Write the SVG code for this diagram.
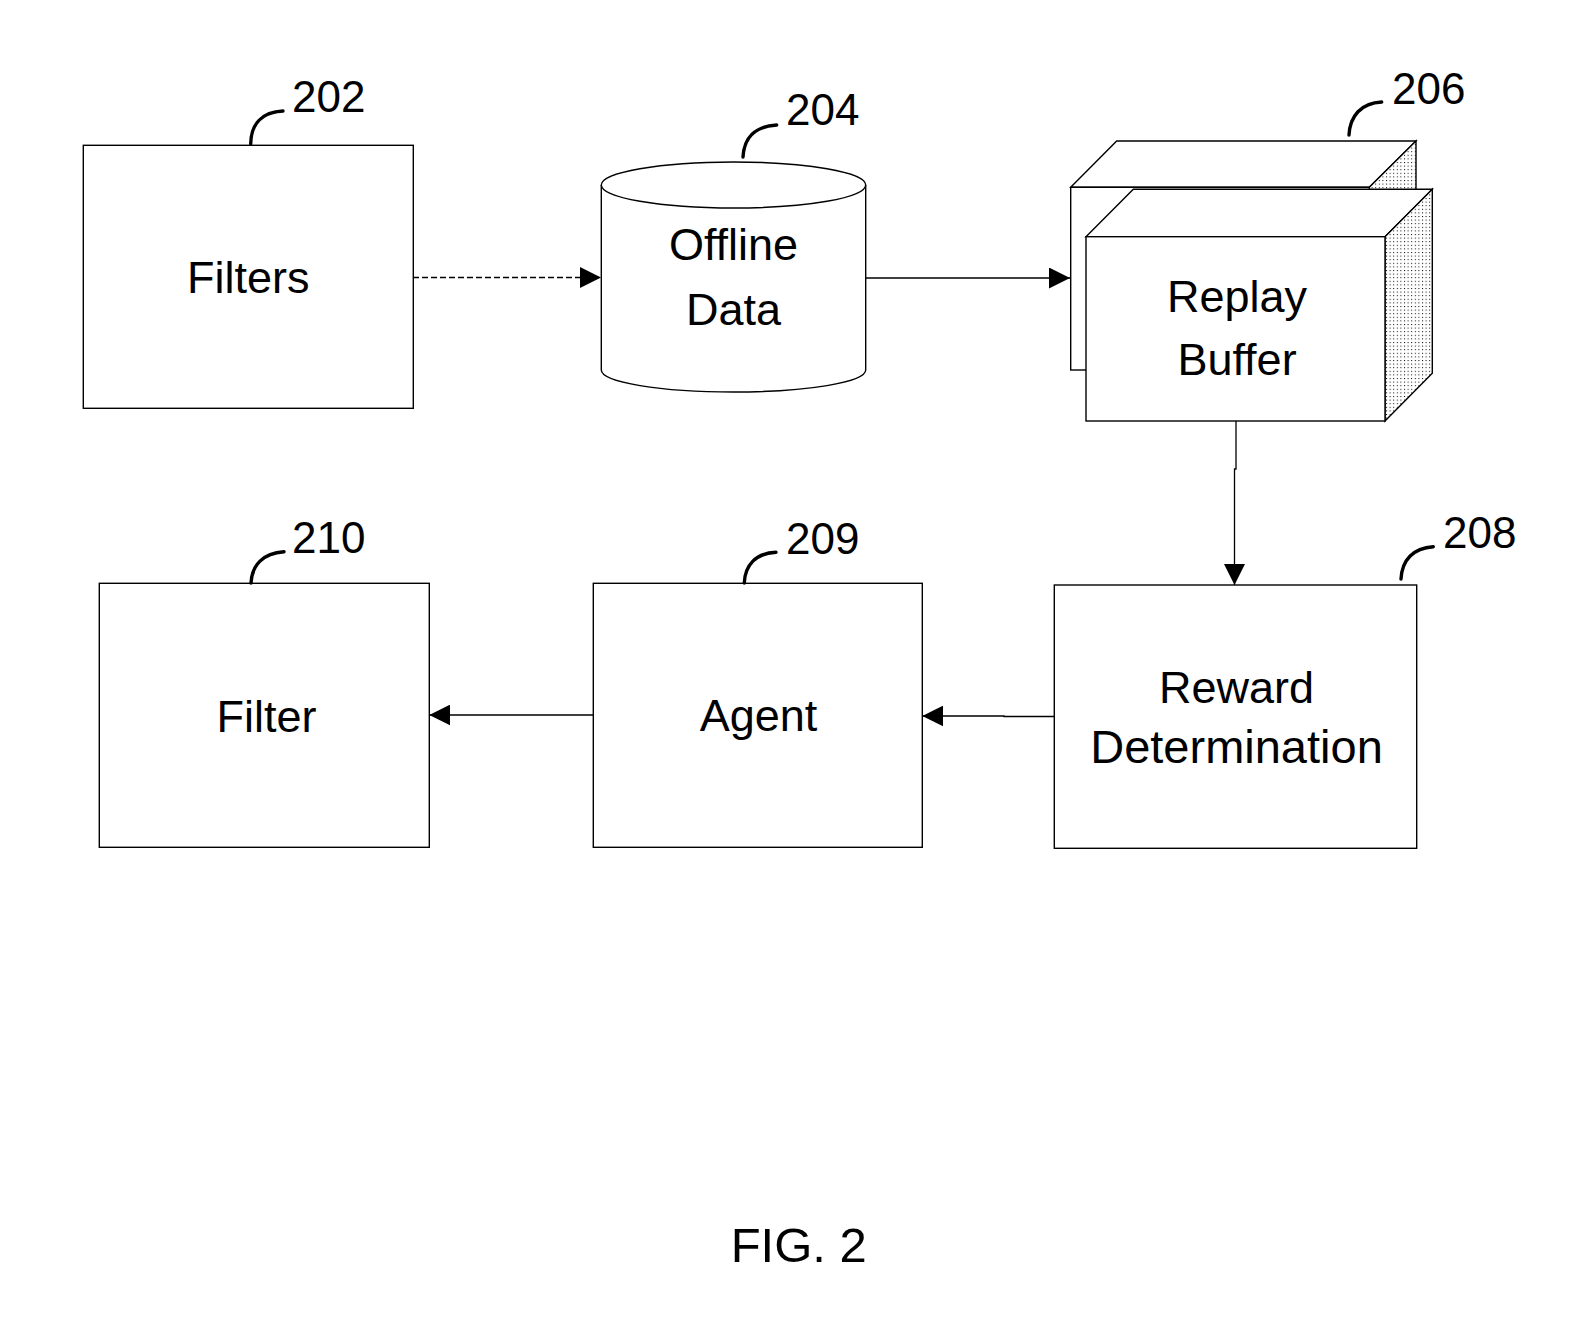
<svg xmlns="http://www.w3.org/2000/svg" width="1591" height="1341" viewBox="0 0 1591 1341">
<style>
.box{fill:#fff;stroke:#000;stroke-width:1.4}
.lbl{font-family:"Liberation Sans",Arial,sans-serif;font-size:45px;fill:#000;text-anchor:middle}
.num{font-family:"Liberation Sans",Arial,sans-serif;font-size:44px;fill:#000}
.lead{fill:none;stroke:#000;stroke-width:3.4;stroke-linecap:round}
.conn{fill:none;stroke:#000;stroke-width:1.3}
.dot{fill:url(#dots);stroke:#000;stroke-width:1.4}
</style>
<defs>
<marker id="arr" markerWidth="21" markerHeight="21" viewBox="0 0 21 21" refX="21" refY="10.5" orient="auto" markerUnits="userSpaceOnUse">
<path d="M0,0 L21,10.5 L0,21 Z" fill="#000"/>
</marker>
<pattern id="dots" patternUnits="userSpaceOnUse" width="3.6" height="3.6">
<rect width="3.6" height="3.6" fill="#fff"/>
<rect x="0" y="0" width="1" height="1" fill="#000"/>
</pattern>
</defs>
<rect width="1591" height="1341" fill="#fff"/>

<g id="connectors">
<line class="conn" x1="413" y1="277.5" x2="601" y2="277.5" stroke-dasharray="6,3" marker-end="url(#arr)"/>
<line class="conn" x1="866" y1="278" x2="1070" y2="278" marker-end="url(#arr)"/>
<polyline class="conn" points="1236,421 1236,469 1234.5,469 1234.5,585" marker-end="url(#arr)"/>
<polyline class="conn" points="1054,716.5 1004,716.5 1004,716 922.3,716" marker-end="url(#arr)"/>
<line class="conn" x1="593.3" y1="715" x2="429.3" y2="715" marker-end="url(#arr)"/>
</g>

<g id="n202">
<rect class="box" x="83.3" y="145.3" width="330" height="263"/>
<text class="lbl" x="248.3" y="293">Filters</text>
<path class="lead" d="M250.7,144 C251,124 262,112 283,111"/>
<text class="num" x="292" y="112">202</text>
</g>

<g id="n204">
<path class="box" d="M601.3,185 L601.3,370 A132,22 0 0 0 865.7,370 L865.7,185 A132,23 0 0 0 601.3,185 Z"/>
<path class="box" d="M601.3,185 A132,23 0 0 0 865.7,185" fill="none"/>
<text class="lbl" x="733.5" y="260">Offline</text>
<text class="lbl" x="733.5" y="325">Data</text>
<path class="lead" d="M743,157 C744,138 755,126 776.7,125"/>
<text class="num" x="786" y="125">204</text>
</g>

<g id="n206">
<polygon class="box" points="1070.7,187.3 1116.7,141 1416,141 1369.3,187.3"/>
<polygon class="dot" points="1369.3,187.3 1416,141 1416,323.7 1369.3,370"/>
<rect class="box" x="1070.7" y="187.3" width="298.6" height="182.7"/>
<polygon class="box" points="1086,236.7 1133.3,189.3 1432.3,189.3 1385,236.7"/>
<polygon class="dot" points="1385,236.7 1432.3,189.3 1432.3,373.3 1385,421"/>
<rect class="box" x="1086" y="236.7" width="299" height="184.3"/>
<text class="lbl" x="1237" y="312">Replay</text>
<text class="lbl" x="1237" y="375">Buffer</text>
<path class="lead" d="M1349,135 C1350,116 1361,103 1381.7,102"/>
<text class="num" x="1392" y="104">206</text>
</g>

<g id="n208">
<rect class="box" x="1054.3" y="585" width="362.4" height="263.3"/>
<text class="lbl" x="1236.5" y="702.5">Reward</text>
<text class="lbl" x="1236.5" y="763" style="font-size:47px">Determination</text>
<path class="lead" d="M1401,579 C1402,560 1413,548 1433.3,546.7"/>
<text class="num" x="1443" y="548">208</text>
</g>

<g id="n209">
<rect class="box" x="593.3" y="583.3" width="329" height="264"/>
<text class="lbl" x="758.5" y="730.5">Agent</text>
<path class="lead" d="M744.3,583 C745,565 756,553 776,552.3"/>
<text class="num" x="786" y="554">209</text>
</g>

<g id="n210">
<rect class="box" x="99.3" y="583.3" width="330" height="264"/>
<text class="lbl" x="266.5" y="731.5">Filter</text>
<path class="lead" d="M251,583 C252,565 263,553 284,551.7"/>
<text class="num" x="292" y="553">210</text>
</g>

<text x="798.7" y="1262" font-family="Liberation Sans, Arial, sans-serif" font-size="49" text-anchor="middle" fill="#000">FIG. 2</text>
</svg>
